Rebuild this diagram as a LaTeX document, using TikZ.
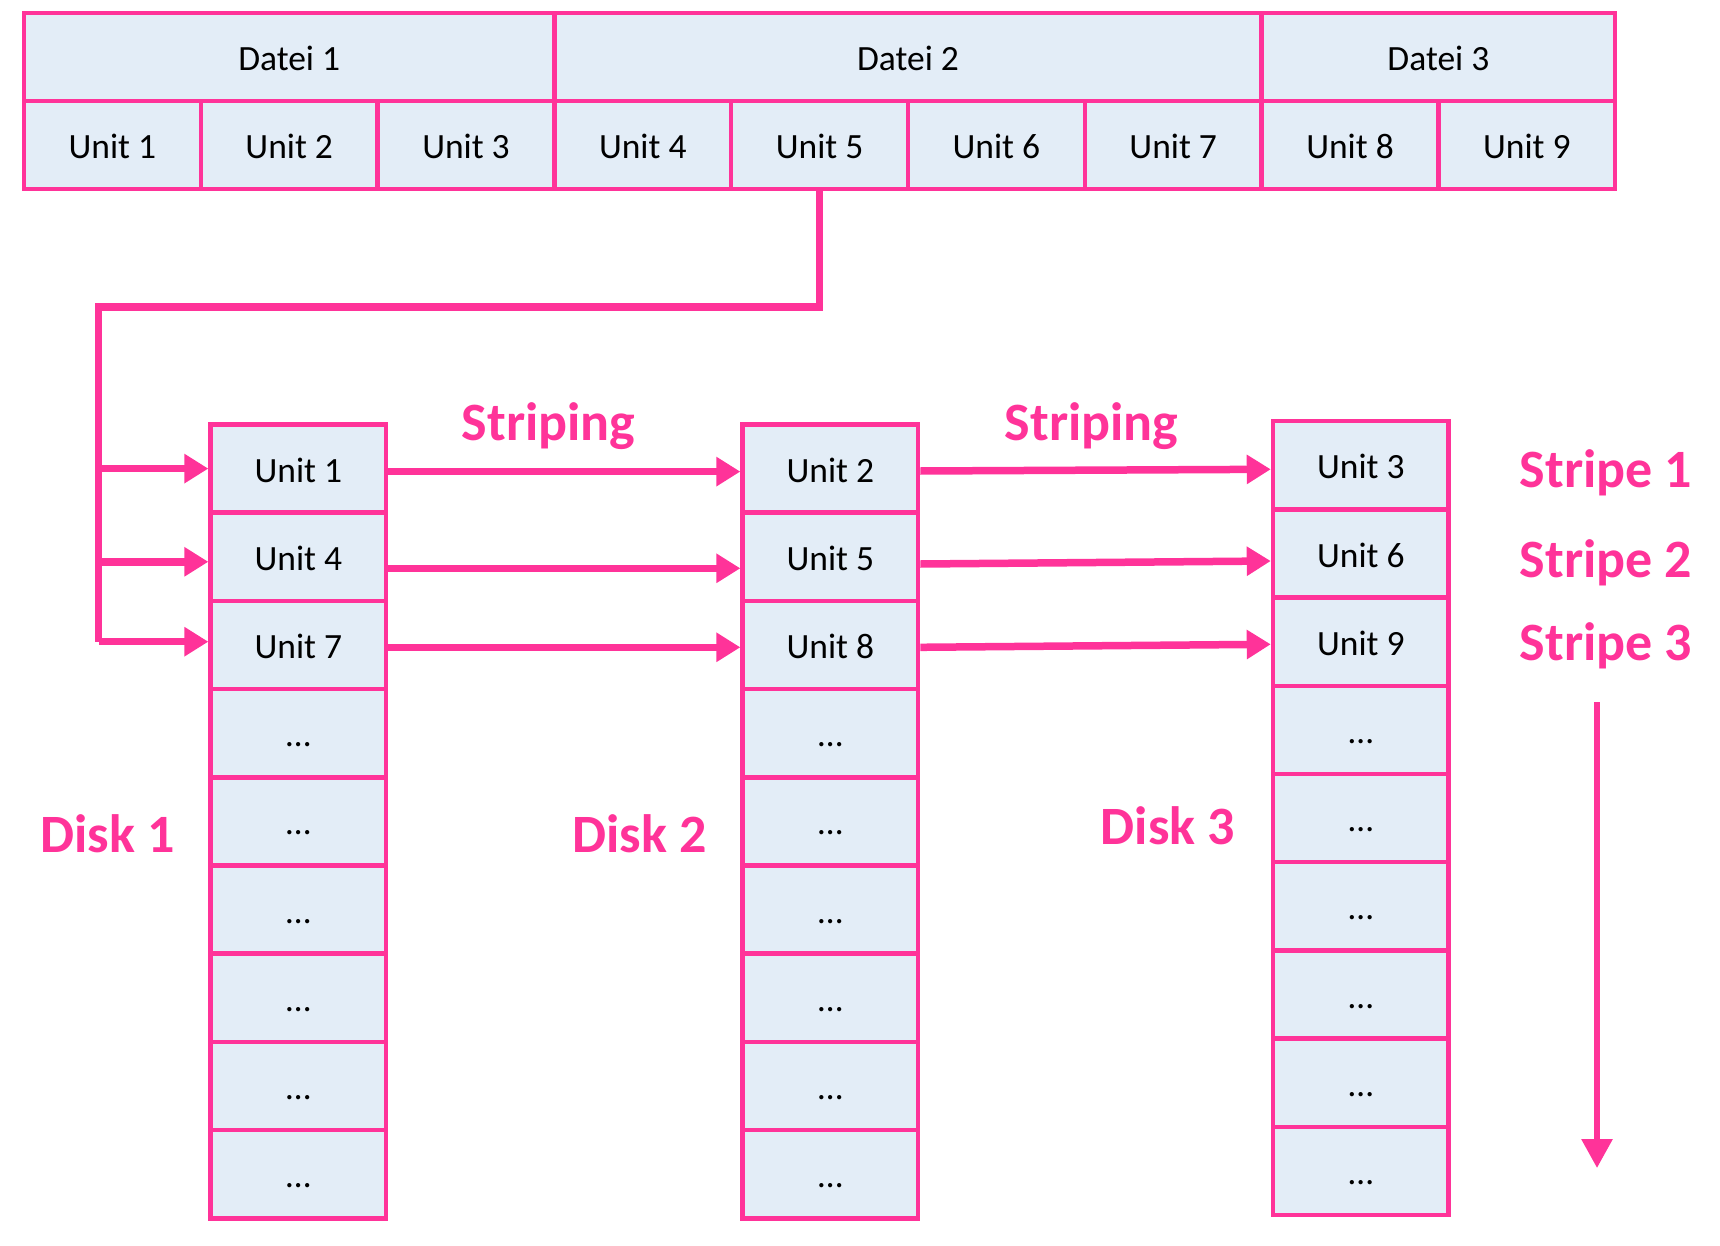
\documentclass[tikz,border=0pt]{standalone}
\usepackage{fontspec}
\setmainfont{Carlito}
\usetikzlibrary{arrows.meta}
\definecolor{pk}{HTML}{FF3399}
\definecolor{cellbg}{HTML}{E3EDF7}
\begin{document}
\begin{tikzpicture}[x=1pt,y=-1pt,
  cell/.style={draw=pk, line width=4.5pt, fill=cellbg, inner sep=0pt,
    minimum height=88pt, text height=27pt, text depth=0pt,
    font=\fontsize{35.5}{40}\selectfont},
  topcell/.style={cell, minimum width=176.8pt},
  diskcell/.style={cell, minimum width=175.6pt, minimum height=88.2pt},
  conn/.style={draw=pk, line width=7.5pt},
  tip/.style={-{Triangle[length=24pt,width=28pt]}},
  lbl/.style={text=pk, inner sep=0pt, anchor=base,
    font=\fontsize{54}{60}\selectfont\bfseries}]
\useasboundingbox (0,0) rectangle (1720,1246);

% top table
\node[cell, minimum width=530.4pt] (f1) at (289.2,57) {Datei 1};
\node[cell, minimum width=707.2pt] (f2) at (908,57) {Datei 2};
\node[cell, minimum width=353.6pt] (f3) at (1438.4,57) {Datei 3};
\foreach \i in {1,...,9}
  \node[topcell] (u\i) at ({24+176.8*(\i-0.5)},145) {Unit \i};

% disks
\foreach \d/\cx/\ty/\a/\b/\c in {1/298.4/424.5/1/4/7, 2/830.4/424.5/2/5/8, 3/1360.8/421.2/3/6/9}{
  \node[diskcell] (d\d r1) at (\cx,{\ty+44.1}) {Unit \a};
  \node[diskcell] (d\d r2) at (\cx,{\ty+132.3}) {Unit \b};
  \node[diskcell] (d\d r3) at (\cx,{\ty+220.5}) {Unit \c};
  \foreach \k in {4,...,9}
    \node[diskcell] (d\d r\k) at (\cx,{\ty+88.2*(\k-0.5)}) {…};
}

% distribution connector
\coordinate (bend) at (98.7,307);
\draw[conn] (u5.south) |- (bend) -- ([yshift=3.3pt]bend |- d1r3.west);
\foreach \k/\sa/\sb/\sc/\sd/\se in {1/0/-3/-2.4/-4, 2/-5/-11.5/-7.2/-7.5, 3/3.3/-2.3/-2.3/-2.6}{
  \draw[conn, tip] ([yshift=\sa pt]bend |- d1r\k.west) -- ([yshift=\sa pt]d1r\k.west);
  \draw[conn, tip] ([yshift=\sb pt]d1r\k.east) -- ([yshift=\sb pt]d2r\k.west);
  \draw[conn, tip] ([yshift=\sc pt]d2r\k.east) -- ([yshift=\sd pt]d3r\k.west);
}

% labels
\node[lbl] (strip1) at (548.5,440) {Striping};
\node[lbl] (strip2) at (1091.5,440) {Striping};
\node[lbl] (disk1) at (107.5,852) {Disk 1};
\node[lbl] (disk2) at (639.5,852) {Disk 2};
\node[lbl] (disk3) at (1168,844) {Disk 3};
\node[lbl] (st1) at (1606,487) {Stripe 1};
\node[lbl] (st2) at (1606,577) {Stripe 2};
\node[lbl] (st3) at (1606,660) {Stripe 3};

% stripe direction arrow
\coordinate (sa) at (1597,702);
\coordinate (sb) at (1597,1168);
\draw[draw=pk, line width=6pt, -{Triangle[length=29pt,width=30pt]}] (sa) -- (sb);
\end{tikzpicture}
\end{document}
